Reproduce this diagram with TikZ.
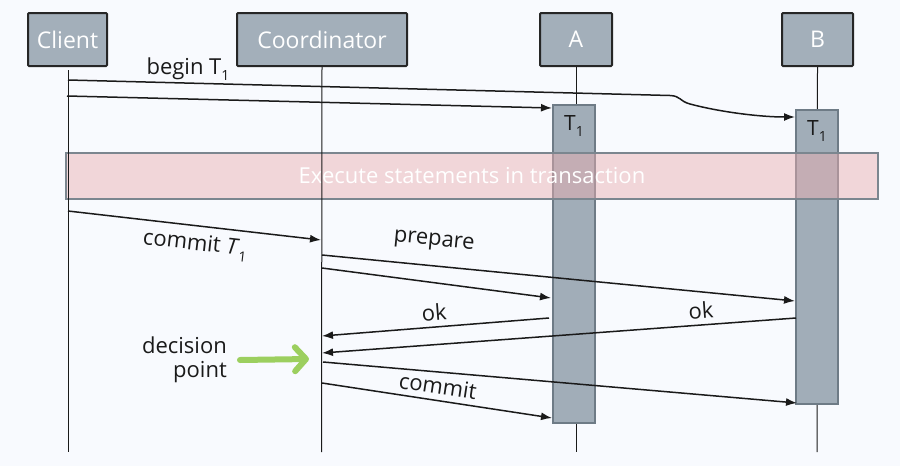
\documentclass[tikz,border=0pt]{standalone}
\usepackage{fontspec}
\setmainfont{Open Sans}
\usetikzlibrary{arrows.meta}
\definecolor{bgcol}{RGB}{248,250,254}
\definecolor{headfill}{RGB}{163,175,186}
\definecolor{headline}{RGB}{38,38,38}
\definecolor{actfill}{RGB}{161,173,184}
\definecolor{actline}{RGB}{110,123,134}
\definecolor{execfill}{RGB}{235,175,177}
\definecolor{execline}{RGB}{123,134,143}
\definecolor{msgcol}{RGB}{26,26,26}
\definecolor{greenarr}{RGB}{156,207,95}
\newcommand{\Tsub}{T\raisebox{-0.28em}{\fontsize{14}{14}\selectfont 1}}
\newcommand{\Tsubit}{\textit{T}\raisebox{-0.28em}{\fontsize{14}{14}\selectfont 1}}
\tikzset{
  head/.style={draw=headline, line width=2pt, fill=headfill, rounded corners=1pt,
    text=white, font=\fontsize{23}{26}\selectfont, minimum height=53pt, inner sep=0pt},
  actbox/.style={draw=actline, line width=2pt, fill=actfill, minimum width=42pt, inner sep=0pt},
  life/.style={line width=1pt, draw=msgcol},
  msg/.style={line width=1.5pt, draw=msgcol, -{Latex[length=11pt,width=8pt]}},
  lbl/.style={font=\fontsize{22}{24}\selectfont, text=msgcol, inner sep=1pt},
}
\begin{document}
\begin{tikzpicture}[x=1pt,y=-1pt]
\fill[bgcol] (0,0) rectangle (900,466);
\useasboundingbox (0,0) rectangle (900,466);

% heads
\node[head, minimum width=79pt] (client) at (67.5,39.5) {Client};
\node[head, minimum width=170pt] (coord) at (322,39.5) {Coordinator};
\node[head, minimum width=72pt] (A) at (576,39.5) {A};
\node[head, minimum width=71pt] (B) at (817.5,39.5) {B};

% lifeline ends
\coordinate (clTop) at (68,70);
\coordinate (clEnd) at (68,452);
\coordinate (coEnd) at (321.5,452);
\coordinate (aEnd) at (576,452);
\coordinate (bEnd) at (817,452);

\draw[life] (A.south) -- (aEnd);
\draw[life] (B.south) -- (bEnd);

% activations
\node[actbox, minimum height=318pt] (actA) at (574,264) {};
\node[actbox, minimum height=294pt] (actB) at (817,257) {};
\node[lbl, font=\fontsize{21}{24}\selectfont] (tA) at (574,126) {\Tsub};
\node[lbl, font=\fontsize{21}{24}\selectfont] (tB) at (817,131) {\Tsub};

% execute box
\node[draw=execline, line width=2pt, fill=execfill, fill opacity=0.48, draw opacity=1,
  text opacity=1, text=white, minimum width=812pt, minimum height=46pt,
  font=\fontsize{22}{24}\selectfont] (exec) at (472,176) {Execute statements in transaction};

\draw[life] (clTop) -- (clEnd);
\draw[life] (coord.south) -- (coEnd);

% message endpoints
\coordinate (m1s) at (68,80);
\coordinate (m1e) at (795,117);
\coordinate (m2s) at (67,96);
\coordinate (m2e) at (552,108);
\coordinate (m3s) at (68,211);
\coordinate (m3e) at (321,240);
\coordinate (m4s) at (322,255);
\coordinate (m4e) at (795,301);
\coordinate (m5s) at (322,268);
\coordinate (m5e) at (551,298);
\coordinate (m6s) at (549,318);
\coordinate (m6e) at (322,336);
\coordinate (m7s) at (796,318);
\coordinate (m7e) at (322,353);
\coordinate (m8s) at (323,362);
\coordinate (m8e) at (797,403);
\coordinate (m9s) at (322,383);
\coordinate (m9e) at (552,418);

\draw[msg] (m1s) -- (670,95.5) .. controls (681,96) and (679,101) .. (690,104)
   .. controls (720,112) and (760,117) .. (m1e);
\draw[msg] (m2s) -- (m2e);
\draw[msg] (m3s) -- (m3e);
\draw[msg] (m4s) -- (m4e);
\draw[msg] (m5s) -- (m5e);
\draw[msg] (m6s) -- (m6e);
\draw[msg] (m7s) -- (m7e);
\draw[msg] (m8s) -- (m8e);
\draw[msg] (m9s) -- (m9e);

% labels
\node[lbl] (lb1) at (188,69) {begin \Tsub};
\node[lbl, rotate=-6.5] (lb3) at (195,245) {commit \Tsubit};
\node[lbl, rotate=-5.6] (lb4) at (434,242) {prepare};
\node[lbl, rotate=4.5] (lb6) at (434,312) {ok};
\node[lbl, rotate=4.2] (lb7) at (701,310) {ok};
\node[lbl, rotate=-8.6] (lb9) at (438,386) {commit};

% decision point
\node[lbl, anchor=east, align=right] (dec) at (228,360) {decision\\point};
\coordinate (gTip) at (309,359);
\draw[greenarr, line width=6pt, line cap=round,
  -{Straight Barb[length=11pt,width=24pt,round]}] (dec.east -| 240,359) -- (gTip);
\end{tikzpicture}
\end{document}
